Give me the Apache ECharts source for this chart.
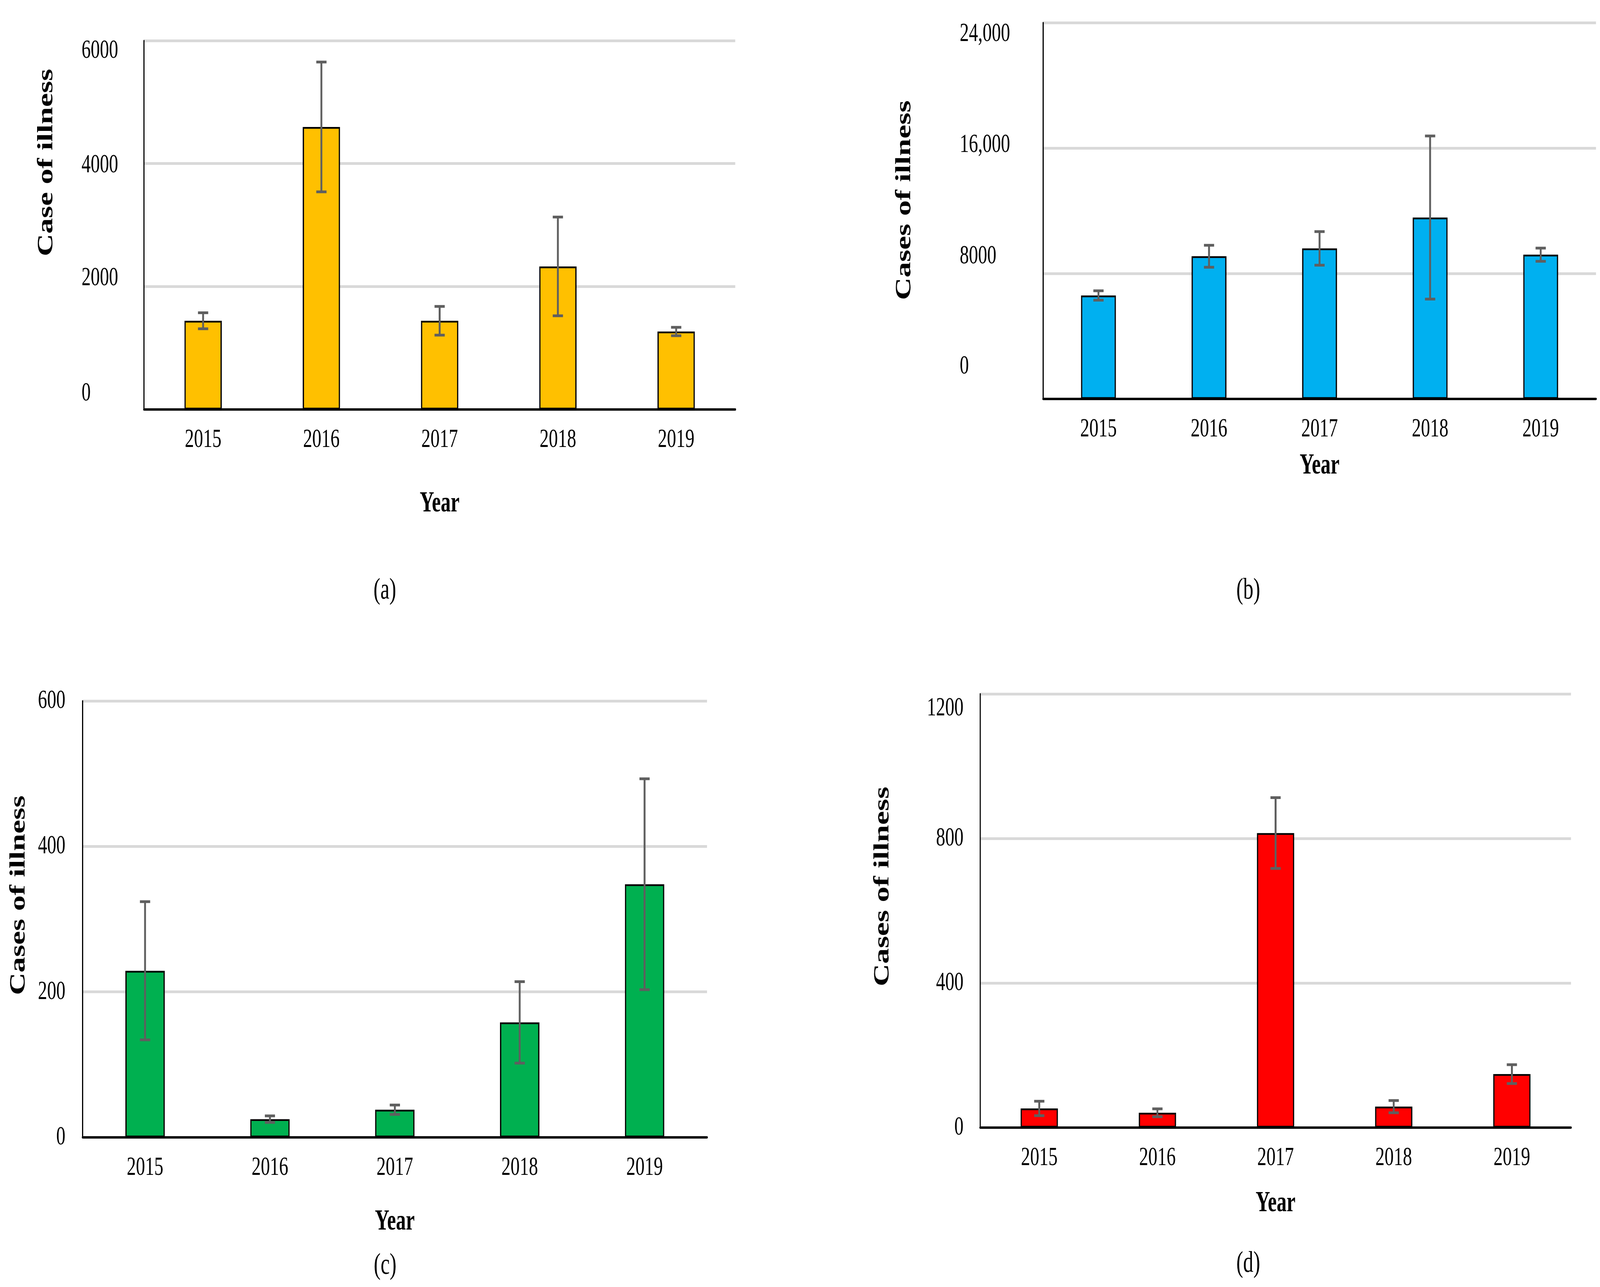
<!DOCTYPE html>
<html>
<head>
<meta charset="utf-8">
<script src="https://cdn.jsdelivr.net/npm/echarts@6/dist/echarts.min.js"></script>
<style>
  html, body { margin: 0; padding: 0; background: #ffffff; overflow: hidden; }
  #chart { width: 5945px; height: 3294px; transform-origin: 0 0; }
</style>
</head>
<body>
<div id="chart"></div>
<script>
// ---------------- data ----------------
const years = ['2015', '2016', '2017', '2018', '2019'];

const aValues = [1443, 4596, 1443, 2327, 1268];
const aErrors = [130, 1056, 234, 803, 68];
const aTickLabels = ['0', '2000', '4000', '6000'];

const bValues = [6600, 9100, 9600, 11570, 9200];
const bErrors = [300, 700, 1070, 5200, 420];
const bTickLabels = ['0', '8000', '16,000', '24,000'];

const cValues = [229, 25, 38, 158, 348];
const cErrors = [95, 4.5, 6.5, 56, 145];
const cTickLabels = ['0', '200', '400', '600'];

const dValues = [53, 41, 815, 58, 148];
const dErrors = [20, 11, 98, 17, 26];
const dTickLabels = ['0', '400', '800', '1200'];

const panelLetters = ['(a)', '(b)', '(c)', '(d)'];
const yTitles = ['Case of illness', 'Cases of illness', 'Cases of illness', 'Cases of illness'];
const xTitle = 'Year';

// ---------------- styling / layout (design size 5945 x 3294) ----------------
const DESIGN_W = 5945, DESIGN_H = 3294;
const FONT = '"Liberation Serif", "Times New Roman", serif';
const panels = [
  { values: aValues, errors: aErrors, ticks: aTickLabels, interval: 2000, color: '#FFC000',
    grid: { left: 535, top: 104, width: 2197, height: 944 },
    labelAlign: 'left', labelMargin: 232, labelShift: [-41, -21, 4, 26],
    nameGap: 322, nameShift: 160, xNameGap: 205, letterPos: [1430, 1512] },
  { values: bValues, errors: bErrors, ticks: bTickLabels, interval: 8000, color: '#00B0F0',
    grid: { left: 3876, top: 58, width: 2054, height: 963 },
    labelAlign: 'left', labelMargin: 310, labelShift: [-83, -44, -8, 29],
    nameGap: 475, nameShift: 27, xNameGap: 135, letterPos: [4638, 1512] },
  { values: cValues, errors: cErrors, ticks: cTickLabels, interval: 200, color: '#00B050',
    grid: { left: 307, top: 1794, width: 2320, height: 1117 },
    labelAlign: 'right', labelMargin: 64, labelShift: [0, 0, 0, 0],
    nameGap: 197, nameShift: 61, xNameGap: 180, letterPos: [1431, 3240] },
  { values: dValues, errors: dErrors, ticks: dTickLabels, interval: 400, color: '#FF0000',
    grid: { left: 3642, top: 1776, width: 2195, height: 1110 },
    labelAlign: 'right', labelMargin: 62, labelShift: [0, 0, 0, 37],
    nameGap: 322, nameShift: 62, xNameGap: 158, letterPos: [4638, 3235] }
];

// fit the design-size chart into whatever viewport the page gets
const el = document.getElementById('chart');
const vw = window.innerWidth || DESIGN_W, vh = window.innerHeight || DESIGN_H;
const fx = vw / DESIGN_W, fy = vh / DESIGN_H;
if (Math.abs(fx - 1) > 0.001 || Math.abs(fy - 1) > 0.001) {
  el.style.transform = 'scale(' + fx + ',' + fy + ')';
}

function errorRender(params, api) {
  const x = api.value(0), lo = api.value(1), hi = api.value(2);
  const top = api.coord([x, hi]);
  const bot = api.coord([x, lo]);
  const hw = 19;
  const style = { stroke: '#5f5f5f', lineWidth: 7, fill: null };
  return {
    type: 'group',
    children: [
      { type: 'line', shape: { x1: top[0], y1: top[1], x2: bot[0], y2: bot[1] }, style: style },
      { type: 'line', shape: { x1: top[0] - hw, y1: top[1], x2: top[0] + hw, y2: top[1] }, style: style },
      { type: 'line', shape: { x1: bot[0] - hw, y1: bot[1], x2: bot[0] + hw, y2: bot[1] }, style: style }
    ]
  };
}

const grids = [], xAxes = [], yAxes = [], series = [], graphics = [];

panels.forEach((p, k) => {
  grids.push(Object.assign({ containLabel: false }, p.grid));

  xAxes.push({
    type: 'category', gridIndex: k, data: years, boundaryGap: true,
    axisLine: { show: true, lineStyle: { color: '#000000', width: 6 } },
    axisTick: { show: false },
    axisLabel: { fontFamily: FONT, fontSize: 68, color: '#000000', margin: 44 },
    name: xTitle, nameLocation: 'middle', nameGap: p.xNameGap,
    nameTextStyle: { fontFamily: FONT, fontSize: 74, fontWeight: 'bold', color: '#000000' }
  });

  const rich = {};
  p.labelShift.forEach((s, i) => {
    rich['s' + i] = {
      fontFamily: FONT, fontSize: 68, color: '#000000',
      padding: s < 0 ? [0, 0, -2 * s, 0] : [2 * s, 0, 0, 0]
    };
  });
  const ticks = p.ticks, interval = p.interval;

  yAxes.push({
    type: 'value', gridIndex: k, min: 0, max: interval * (ticks.length - 1), interval: interval,
    axisLine: { show: true, lineStyle: { color: '#000000', width: 4 } },
    axisTick: { show: false },
    splitLine: { show: true, lineStyle: { color: '#d9d9d9', width: 7 } },
    axisLabel: {
      fontFamily: FONT, fontSize: 68, color: '#000000',
      align: p.labelAlign, margin: p.labelMargin,
      formatter: function (v) {
        const i = Math.round(v / interval);
        return '{s' + i + '|' + ticks[i] + '}';
      },
      rich: rich
    },
    name: yTitles[k], nameLocation: 'middle', nameRotate: 90, nameGap: p.nameGap,
    nameTextStyle: {
      fontFamily: FONT, fontSize: 80, fontWeight: 'bold', color: '#000000',
      padding: [0, 0, 0, 2 * p.nameShift]
    }
  });

  series.push({
    type: 'bar', xAxisIndex: k, yAxisIndex: k, data: p.values, barWidth: '31.5%',
    itemStyle: { color: p.color, borderColor: '#000000', borderWidth: 4.5 },
    z: 2
  });

  series.push({
    type: 'custom', xAxisIndex: k, yAxisIndex: k,
    data: years.map((y, i) => [i, p.values[i] - p.errors[i], p.values[i] + p.errors[i]]),
    encode: { x: 0, y: [1, 2] },
    renderItem: errorRender,
    z: 5
  });

  graphics.push({
    type: 'text', x: p.letterPos[0], y: p.letterPos[1],
    style: {
      text: panelLetters[k], fontFamily: FONT, fontSize: 76, fill: '#000000',
      textAlign: 'center', textVerticalAlign: 'middle'
    }
  });
});

const chart = echarts.init(el, null, { renderer: 'canvas', width: DESIGN_W, height: DESIGN_H });
chart.setOption({
  backgroundColor: '#ffffff',
  animation: false,
  grid: grids,
  xAxis: xAxes,
  yAxis: yAxes,
  series: series,
  graphic: graphics
});
</script>
</body>
</html>
